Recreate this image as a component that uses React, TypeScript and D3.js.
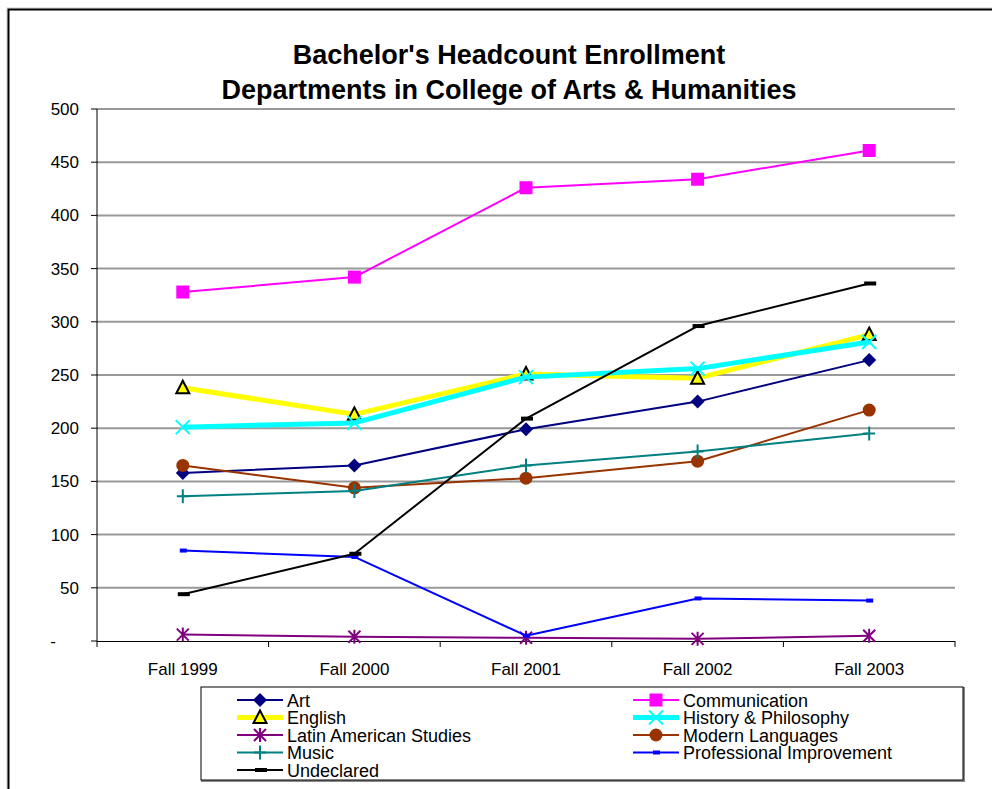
import React from "react";
import * as d3 from "d3";

const categories = ["Fall 1999", "Fall 2000", "Fall 2001", "Fall 2002", "Fall 2003"];
const yTicks = [0, 50, 100, 150, 200, 250, 300, 350, 400, 450, 500];

const art = [158, 165, 199, 225, 264];
const communication = [328, 342, 426, 434, 461];
const english = [238, 213, 251, 247, 288];
const history = [201, 205, 248, 256, 281];
const latin = [6, 4, 3, 2, 5];
const modern = [165, 144, 153, 169, 217];
const music = [136, 141, 165, 178, 195];
const profImp = [85, 79, 5, 40, 38];
const undeclared = [44, 82, 209, 296, 336];

type Marker = "diamond" | "square" | "triangle" | "x" | "star" | "circle" | "plus" | "dashSmall" | "dashBig";
interface Series { name: string; values: number[]; color: string; width: number; marker: Marker; }

const series: Series[] = [
  { name: "Art", values: art, color: "#000080", width: 2, marker: "diamond" },
  { name: "Communication", values: communication, color: "#FF00FF", width: 2, marker: "square" },
  { name: "English", values: english, color: "#FFFF00", width: 5, marker: "triangle" },
  { name: "History & Philosophy", values: history, color: "#00FFFF", width: 5, marker: "x" },
  { name: "Latin American Studies", values: latin, color: "#800080", width: 2, marker: "star" },
  { name: "Modern Languages", values: modern, color: "#993300", width: 2, marker: "circle" },
  { name: "Music", values: music, color: "#008080", width: 2, marker: "plus" },
  { name: "Professional Improvement", values: profImp, color: "#0000FF", width: 2, marker: "dashSmall" },
  { name: "Undeclared", values: undeclared, color: "#000000", width: 2, marker: "dashBig" },
];

const FONT = "'Liberation Sans', Arial, sans-serif";

function MarkerShape({ type, x, y, color }: { type: Marker; x: number; y: number; color: string }) {
  switch (type) {
    case "diamond":
      return <path d={`M${x},${y - 7}L${x + 7},${y}L${x},${y + 7}L${x - 7},${y}Z`} fill={color} />;
    case "square":
      return <rect x={x - 6.5} y={y - 6.5} width={13} height={13} fill={color} />;
    case "triangle":
      return <path d={`M${x},${y - 7}L${x + 6.5},${y + 5.5}L${x - 6.5},${y + 5.5}Z`} fill="#FFFF00" stroke="#000" strokeWidth={2} strokeLinejoin="miter" />;
    case "x":
      return <path d={`M${x - 7},${y - 7}L${x + 7},${y + 7}M${x - 7},${y + 7}L${x + 7},${y - 7}`} stroke={color} strokeWidth={2} />;
    case "star":
      return <path d={`M${x - 6},${y - 6}L${x + 6},${y + 6}M${x - 6},${y + 6}L${x + 6},${y - 6}M${x},${y - 7}L${x},${y + 7}`} stroke={color} strokeWidth={2} />;
    case "circle":
      return <circle cx={x} cy={y} r={6.5} fill={color} />;
    case "plus":
      return <path d={`M${x - 6},${y}L${x + 6},${y}M${x},${y - 7}L${x},${y + 7}`} stroke={color} strokeWidth={2} />;
    case "dashSmall":
      return <rect x={x - 3} y={y - 2} width={7} height={4} fill={color} />;
    case "dashBig":
      return <rect x={x - 5} y={y - 2} width={12} height={4} fill={color} />;
  }
  return null;
}

export default function App() {
  const W = 992, H = 789;
  const left = 97, right = 955, top = 109, bottom = 641;
  const x = d3.scaleBand<string>().domain(categories).range([left, right]);
  const y = d3.scaleLinear().domain([0, 500]).range([bottom, top]);
  const cx = (c: string) => (x(c) as number) + x.bandwidth() / 2;
  const line = d3.line<number>().x((_, i) => cx(categories[i])).y((v) => y(v));

  const legLeftX = 237, legRightX = 633, legY0 = 700, legDY = 17.5;

  return (
    <div style={{ position: "absolute", left: 0, top: 0 }}>
      <svg width={W} height={H} style={{ display: "block", fontFamily: FONT }}>
        <rect x={0} y={0} width={W} height={H} fill="#fff" />
        <rect x={7} y={8} width={1100} height={900} fill="none" stroke="#ccc" strokeWidth={1} />
        <rect x={8.5} y={9.5} width={1100} height={900} fill="none" stroke="#000" strokeWidth={2} />

        <text x={509} y={64} textAnchor="middle" fontSize={27} fontWeight="bold">Bachelor's Headcount Enrollment</text>
        <text x={509} y={99} textAnchor="middle" fontSize={27} fontWeight="bold">Departments in College of Arts &amp; Humanities</text>

        {yTicks.map((t) => (
          <g key={t}>
            {t > 0 && <line x1={left} x2={right} y1={y(t)} y2={y(t)} stroke="#999" strokeWidth={2} />}
            <line x1={left - 6} x2={left} y1={y(t)} y2={y(t)} stroke="#000" strokeWidth={1} />
            {t === 0 ? (
              <text x={53} y={y(t) + 6} textAnchor="middle" fontSize={17}>-</text>
            ) : (
              <text x={79} y={y(t) + 6} textAnchor="end" fontSize={17}>{d3.format("d")(t)}</text>
            )}
          </g>
        ))}
        <line x1={left} x2={left} y1={top} y2={bottom} stroke="#000" strokeWidth={1} />
        <line x1={left} x2={right} y1={bottom + 0.5} y2={bottom + 0.5} stroke="#000" strokeWidth={1} />
        {categories.map((c, i) => (
          <g key={c}>
            <line x1={x(c) as number} x2={x(c) as number} y1={bottom} y2={bottom + 6} stroke="#000" />
            {i === categories.length - 1 && <line x1={right} x2={right} y1={bottom} y2={bottom + 6} stroke="#000" />}
            <text x={cx(c)} y={675} textAnchor="middle" fontSize={17}>{c}</text>
          </g>
        ))}

        {series.map((s) => (
          <g key={s.name}>
            <path d={line(s.values) || ""} fill="none" stroke={s.color} strokeWidth={s.width} strokeLinejoin="round" />
            {s.values.map((v, i) => (
              <MarkerShape key={i} type={s.marker} x={cx(categories[i])} y={y(v)} color={s.color} />
            ))}
          </g>
        ))}

        <rect x={202} y={688} width={762} height={93} fill="#fff" stroke="#888" strokeWidth={2} />
        <rect x={201} y={687} width={762} height={93} fill="#fff" stroke="#000" strokeWidth={1} />
        {series.map((s, i) => {
          const col = i % 2;
          const row = Math.floor(i / 2);
          const lx = col === 0 ? legLeftX : legRightX;
          const ly = legY0 + row * legDY;
          return (
            <g key={s.name}>
              <line x1={lx} x2={lx + 46} y1={ly} y2={ly} stroke={s.color} strokeWidth={s.width} />
              <MarkerShape type={s.marker} x={lx + 23} y={ly} color={s.color} />
              <text x={lx + 50} y={ly + 6.5} fontSize={18}>{s.name}</text>
            </g>
          );
        })}
      </svg>
    </div>
  );
}
